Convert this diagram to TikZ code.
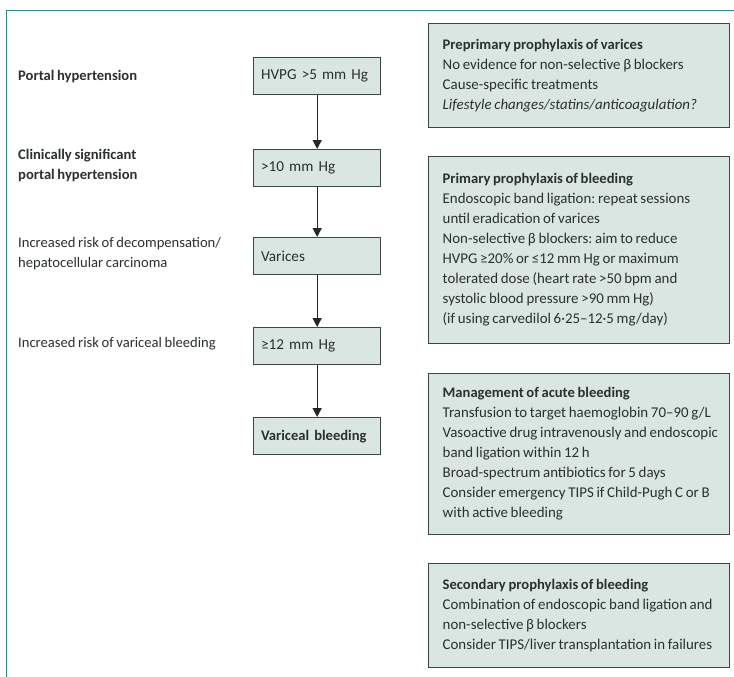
\documentclass[tikz,border=0pt]{standalone}
\usepackage{fontspec}
\setmainfont{Carlito}[WordSpace=0.8]
\usetikzlibrary{arrows.meta}
\definecolor{frameteal}{HTML}{2E8A86}
\definecolor{boxfill}{HTML}{DAE6E1}
\definecolor{boxline}{HTML}{3C4646}
\definecolor{txt}{HTML}{2B3030}
\frenchspacing
\newcommand{\ttl}[1]{{\fontsize{14.6}{20}\selectfont\bfseries #1}}
\begin{document}
\begin{tikzpicture}[x=1pt,y=-1pt,
  every node/.style={text=txt, font=\fontsize{14.6}{20}\selectfont},
  flowbox/.style={draw=boxline, fill=boxfill, line width=1.3pt, anchor=north west,
    minimum width=125pt, minimum height=37pt, text width=112pt, inner xsep=7.5pt, align=left,
    font=\fontsize{15.2}{20}\selectfont},
  infobox/.style={draw=boxline, fill=boxfill, line width=1.3pt, anchor=north west,
    minimum width=301pt, inner sep=0pt},
  infotext/.style={anchor=west, align=left, inner sep=0pt, xshift=14.5pt,
    font=\fontsize{14.9}{20}\selectfont},
  lab/.style={anchor=west, align=left, inner sep=0pt},
  flowarrow/.style={line width=1.3pt, draw=black!85, -{Triangle[width=9pt,length=9pt]}}
]
\useasboundingbox (0,0) rectangle (734,677);
\fill[white] (0,0) rectangle (734,677);
% frame
\draw[frameteal, line width=1.5pt] (734,10.5) -- (6.5,10.5) -- (6.5,677);

% flow boxes
\node[flowbox] (b1) at (253,57) {HVPG >5 mm Hg};
\node[flowbox] (b2) at (253,149) {>10 mm Hg};
\node[flowbox] (b3) at (253,237) {Varices};
\node[flowbox] (b4) at (253,327) {≥12 mm Hg};
\node[flowbox] (b5) at (253,417) {\ttl{Variceal bleeding}};

\draw[flowarrow] (b1.south) -- (b2.north);
\draw[flowarrow] (b2.south) -- (b3.north);
\draw[flowarrow] (b3.south) -- (b4.north);
\draw[flowarrow] (b4.south) -- (b5.north);

% left labels
\node[lab] (l1) at (18,77) {\textbf{Portal hypertension}};
\node[lab] (l2) at (18,166) {\textbf{Clinically significant}\\\textbf{portal hypertension}};
\node[lab] (l3) at (18,254) {Increased risk of decompensation/\\hepatocellular carcinoma};
\node[lab] (l4) at (18,344) {Increased risk of variceal bleeding};

% info boxes
\node[infobox, minimum height=104pt] (r1) at (428,23) {};
\node[infotext] (t1) at (r1.west) {\ttl{Preprimary prophylaxis of varices}\\
No evidence for non-selective β blockers\\
Cause-specific treatments\\
\textit{Lifestyle changes/statins/anticoagulation?}};

\node[infobox, minimum height=187pt] (r2) at (428,156) {};
\node[infotext] (t2) at (r2.west) {\ttl{Primary prophylaxis of bleeding}\\
Endoscopic band ligation: repeat sessions\\
until eradication of varices\\
Non-selective β blockers: aim to reduce\\
HVPG ≥20\% or ≤12 mm Hg or maximum\\
tolerated dose (heart rate >50 bpm and\\
systolic blood pressure >90 mm Hg)\\
(if using carvedilol 6·25–12·5 mg/day)};

\node[infobox, minimum height=161pt] (r3) at (428,373) {};
\node[infotext] (t3) at (r3.west) {\ttl{Management of acute bleeding}\\
Transfusion to target haemoglobin 70–90 g/L\\
Vasoactive drug intravenously and endoscopic\\
band ligation within 12 h\\
Broad-spectrum antibiotics for 5 days\\
Consider emergency TIPS if Child-Pugh C or B\\
with active bleeding};

\node[infobox, minimum height=104pt] (r4) at (428,563) {};
\node[infotext] (t4) at (r4.west) {\ttl{Secondary prophylaxis of bleeding}\\
Combination of endoscopic band ligation and\\
non-selective β blockers\\
Consider TIPS/liver transplantation in failures};
\end{tikzpicture}
\end{document}
